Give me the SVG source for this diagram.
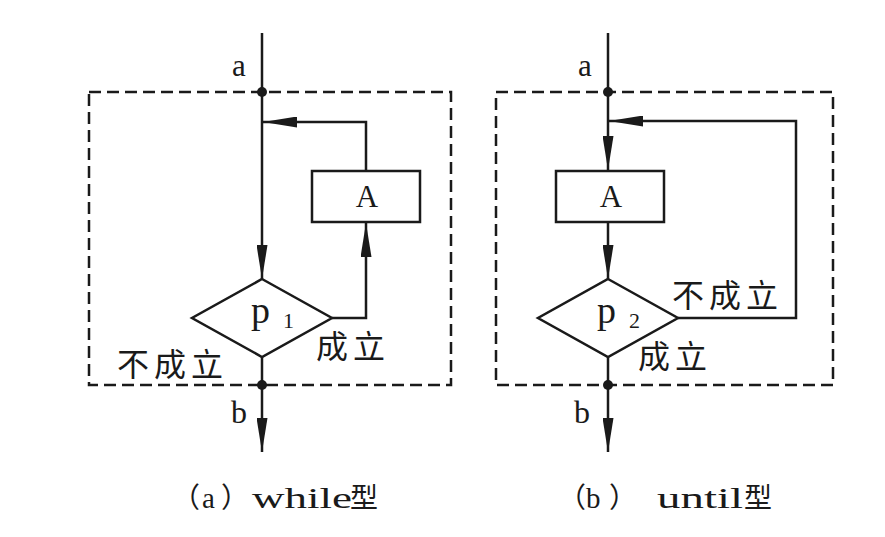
<svg xmlns="http://www.w3.org/2000/svg" width="885" height="537" viewBox="0 0 885 537">
<defs>
<style>
.ln{fill:none;stroke:#1a1a1a;stroke-width:2.5}
.dash{fill:none;stroke:#1a1a1a;stroke-width:2.5;stroke-dasharray:12 6}
.shape{fill:#fff;stroke:#1a1a1a;stroke-width:2.5}
.dot{fill:#1a1a1a}
.lat{font-family:"Liberation Serif","Noto Sans CJK SC",serif;fill:#1a1a1a}
.cjk{font-family:"Noto Sans CJK SC","Liberation Serif",sans-serif;fill:#1a1a1a}
.lbl{font-family:"Noto Sans CJK SC","Liberation Serif",sans-serif;fill:#1a1a1a;font-size:32px;letter-spacing:5px}
</style>
<marker id="ah" markerUnits="userSpaceOnUse" markerWidth="34" markerHeight="11" refX="34" refY="5.5" orient="auto">
<path d="M0,0 L34,5.5 L0,11 z" fill="#1a1a1a"/>
</marker>
</defs>
<rect width="885" height="537" fill="#fff"/>

<g id="frame-a"><rect class="dash" x="89" y="92" width="362" height="293"/></g>
<g id="frame-b"><rect class="dash" x="496" y="92" width="337" height="293"/></g>

<g id="connectors">
<path class="ln" d="M262,33 V279" marker-end="url(#ah)"/>
<path class="ln" d="M262,357 V452" marker-end="url(#ah)"/>
<path class="ln" d="M332,318 H366 V223" marker-end="url(#ah)"/>
<path class="ln" d="M366,171 V122 H263" marker-end="url(#ah)"/>
<path class="ln" d="M608,33 V170" marker-end="url(#ah)"/>
<path class="ln" d="M608,222 V279" marker-end="url(#ah)"/>
<path class="ln" d="M608,357 V452" marker-end="url(#ah)"/>
<path class="ln" d="M678,318 H796 V121 H609" marker-end="url(#ah)"/>
<circle class="dot" cx="262" cy="92" r="5"/>
<circle class="dot" cx="262" cy="385" r="5"/>
<circle class="dot" cx="608" cy="92" r="5"/>
<circle class="dot" cx="608" cy="385" r="5"/>
</g>

<g id="a-box-A">
<rect class="shape" x="312" y="171" width="108" height="51"/>
<text class="lat" x="367" y="207" font-size="31" text-anchor="middle">A</text>
</g>
<g id="a-diamond-p1">
<polygon class="shape" points="262,279 332,318 262,357 192,318"/>
<text class="lat" x="251" y="323" font-size="38">p</text>
<text class="lat" x="283" y="328" font-size="22">1</text>
</g>
<g id="b-box-A">
<rect class="shape" x="556" y="171" width="108" height="51"/>
<text class="lat" x="611" y="207" font-size="31" text-anchor="middle">A</text>
</g>
<g id="b-diamond-p2">
<polygon class="shape" points="608,279 678,318 608,357 538,318"/>
<text class="lat" x="597" y="323" font-size="38">p</text>
<text class="lat" x="629" y="328" font-size="22">2</text>
</g>

<g id="labels">
<text class="lat" x="239" y="76" font-size="31" text-anchor="middle">a</text>
<text class="lat" x="239" y="423" font-size="32" text-anchor="middle">b</text>
<text class="lat" x="585" y="76" font-size="31" text-anchor="middle">a</text>
<text class="lat" x="582" y="423" font-size="32" text-anchor="middle">b</text>
<text class="lbl" x="316" y="358">成立</text>
<text class="lbl" x="117" y="376">不成立</text>
<text class="lbl" x="672" y="307">不成立</text>
<text class="lbl" x="638" y="368">成立</text>
</g>

<g id="caption-a">
<text class="cjk" x="172" y="508" font-size="28">（</text>
<text class="lat" x="202" y="508" font-size="29">a</text>
<text class="cjk" x="221" y="508" font-size="28">）</text>
<text class="lat" x="252" y="508" font-size="29" textLength="100" lengthAdjust="spacingAndGlyphs">while</text>
<text class="cjk" x="350" y="508" font-size="28">型</text>
</g>
<g id="caption-b">
<text class="cjk" x="558" y="508" font-size="28">（</text>
<text class="lat" x="586" y="508" font-size="29">b</text>
<text class="cjk" x="609" y="508" font-size="28">）</text>
<text class="lat" x="657" y="508" font-size="29" textLength="86" lengthAdjust="spacingAndGlyphs">until</text>
<text class="cjk" x="744" y="508" font-size="28">型</text>
</g>
</svg>
